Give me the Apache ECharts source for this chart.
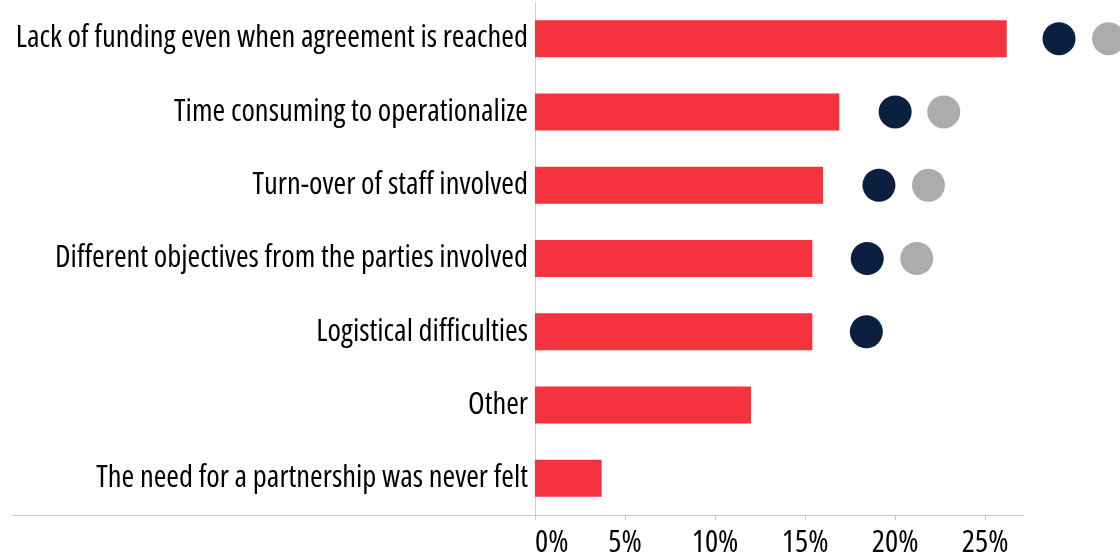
<!DOCTYPE html>
<html>
<head>
<meta charset="utf-8">
<script src="https://cdn.jsdelivr.net/npm/echarts@6/dist/echarts.min.js"></script>
<style>
  html, body { margin: 0; padding: 0; background: #fff; }
  #chart { width: 1120px; height: 560px; }
</style>
</head>
<body>
<div id="chart"></div>
<script>
const categories = [
  "Lack of funding even when agreement is reached",
  "Time consuming to operationalize",
  "Turn-over of staff involved",
  "Different objectives from the parties involved",
  "Logistical difficulties",
  "Other",
  "The need for a partnership was never felt"
];
const barValues  = [26.2, 16.9, 16.0, 15.4, 15.4, 12.0, 3.7];
const darkValues = [29.1, 20.0, 19.1, 18.45, 18.4, null, null];
const grayValues = [31.85, 22.7, 21.85, 21.2, null, null, null];
const tickValues = [0, 5, 10, 15, 20, 25];

const FONT = '"Open Sans", "Roboto Condensed", sans-serif';

function toPairs(vals) {
  const out = [];
  vals.forEach((v, i) => { if (v !== null) out.push([v, categories[i]]); });
  return out;
}

const chart = echarts.init(document.getElementById('chart'));
const gridBottom = 45;
chart.setOption({
  animation: false,
  grid: { left: 535, right: 97, top: 2, bottom: gridBottom, containLabel: false, outerBoundsMode: 'none' },
  xAxis: {
    type: 'value',
    min: 0,
    max: 27.1,
    interval: 5,
    splitLine: { show: false },
    axisLine: { show: true, lineStyle: { color: '#c8c8c8', width: 1 } },
    axisTick: { show: true, length: 5, lineStyle: { color: '#c8c8c8' }, customValues: tickValues },
    axisLabel: {
      customValues: tickValues,
      formatter: '{value}%',
      fontFamily: FONT,
      fontStyle: 'condensed',
      fontWeight: 500,
      fontSize: 31,
      color: '#000',
      margin: 13,
      alignMinLabel: 'left'
    }
  },
  yAxis: {
    type: 'category',
    data: categories,
    inverse: true,
    axisLine: { show: true, lineStyle: { color: '#d0d0d0', width: 1 } },
    axisTick: { show: false },
    axisLabel: {
      fontFamily: FONT,
      fontStyle: 'condensed',
      fontWeight: 500,
      fontSize: 30.6,
      color: '#000',
      margin: 7
    }
  },
  series: [
    {
      type: 'bar',
      data: barValues,
      barWidth: 37,
      itemStyle: { color: '#F5333F' },
      emphasis: { disabled: true },
      z: 2
    },
    {
      type: 'scatter',
      data: toPairs(darkValues),
      symbol: 'circle',
      symbolSize: 33,
      clip: false,
      itemStyle: { color: '#0B1F41', opacity: 1 },
      emphasis: { disabled: true },
      z: 3
    },
    {
      type: 'scatter',
      data: toPairs(grayValues),
      symbol: 'circle',
      symbolSize: 33,
      clip: false,
      itemStyle: { color: '#ABACAB', opacity: 1 },
      emphasis: { disabled: true },
      z: 3
    }
  ],
  graphic: [
    {
      type: 'line',
      silent: true,
      shape: { x1: 12, y1: 560 - gridBottom + 0.5, x2: 535, y2: 560 - gridBottom + 0.5 },
      style: { stroke: '#c8c8c8', lineWidth: 1 }
    }
  ]
});
</script>
</body>
</html>
